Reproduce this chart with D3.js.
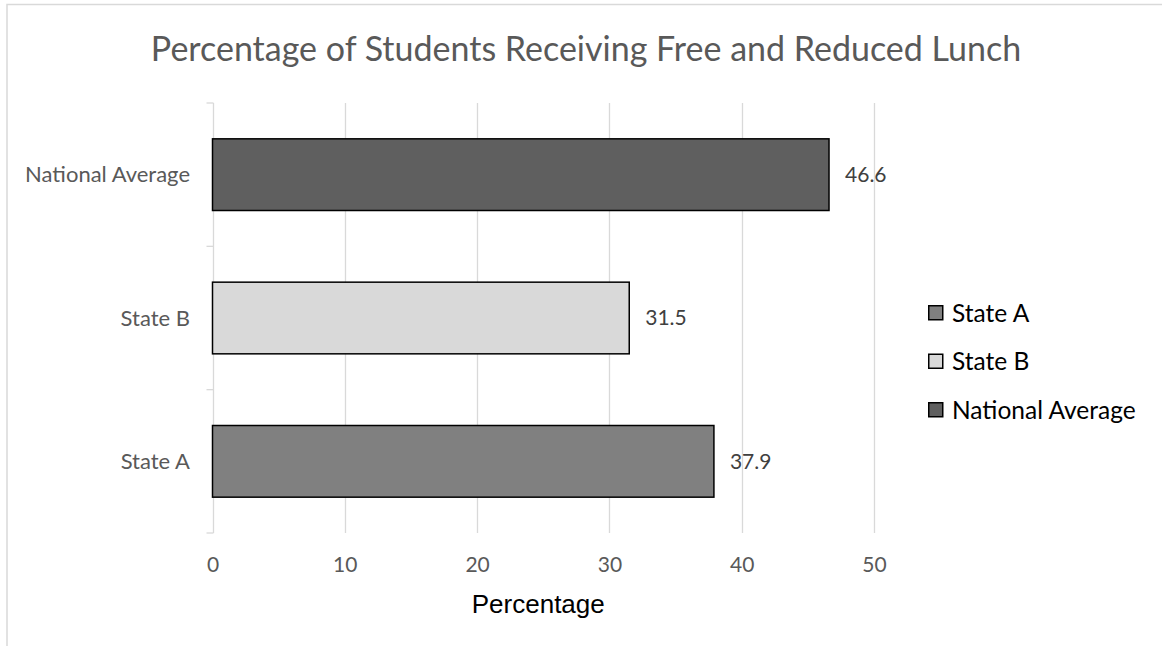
<!DOCTYPE html>
<html>
<head>
<meta charset="utf-8">
<script src="https://cdn.jsdelivr.net/npm/d3@7/dist/d3.min.js"></script>
<style>
  html, body { margin: 0; padding: 0; background: #fff; }
  svg { display: block; }
</style>
</head>
<body>
<svg id="chart" width="1162" height="646"></svg>
<script>
// Free and reduced lunch shares, bottom-to-top order as plotted
const categories = ["State A", "State B", "National Average"];
const values = [37.9, 31.5, 46.6];
const fills = ["#808080", "#d9d9d9", "#5f5f5f"];
const xTicks = [0, 10, 20, 30, 40, 50];

const W = 1162, H = 646;
const margin = { left: 212.5, right: 288, top: 103, bottom: 113 };
const baseFont = "Lato, 'Open Sans', sans-serif";

const svg = d3.select("#chart");

// outer chart frame
svg.append("rect")
  .attr("x", 7).attr("y", 4.5)
  .attr("width", W + 20).attr("height", H + 40)
  .attr("fill", "#fff")
  .attr("stroke", "#d9d9d9").attr("stroke-width", 1.5);

const x = d3.scaleLinear().domain([0, 50]).range([margin.left, W - margin.right]);
// categories listed bottom-to-top, so reverse for top-down band layout
const y = d3.scaleBand()
  .domain(categories.slice().reverse())
  .range([margin.top, H - margin.bottom])
  .paddingInner(0.5).paddingOuter(0.25);

const plotTop = margin.top, plotBottom = H - margin.bottom;

// vertical gridlines
svg.append("g").selectAll("line")
  .data(xTicks.filter(t => t > 0))
  .join("line")
  .attr("x1", d => Math.round(x(d)) + 0.5).attr("x2", d => Math.round(x(d)) + 0.5)
  .attr("y1", plotTop).attr("y2", plotBottom)
  .attr("stroke", "#d9d9d9").attr("stroke-width", 1.3);

// category axis line with tick marks at band edges
const yAxisX = Math.round(x(0)) + 0.5;
svg.append("line")
  .attr("x1", yAxisX).attr("x2", yAxisX)
  .attr("y1", plotTop).attr("y2", plotBottom)
  .attr("stroke", "#d9d9d9").attr("stroke-width", 1.3);
const step = (plotBottom - plotTop) / categories.length;
svg.append("g").selectAll("line")
  .data(d3.range(categories.length + 1))
  .join("line")
  .attr("x1", yAxisX - 7).attr("x2", yAxisX)
  .attr("y1", i => plotTop + i * step).attr("y2", i => plotTop + i * step)
  .attr("stroke", "#d9d9d9").attr("stroke-width", 1.3);

// bars
const data = categories.map((c, i) => ({ c, v: values[i], fill: fills[i] }));
svg.append("g").selectAll("rect")
  .data(data)
  .join("rect")
  .attr("x", x(0))
  .attr("y", d => y(d.c))
  .attr("width", d => x(d.v) - x(0))
  .attr("height", y.bandwidth())
  .attr("fill", d => d.fill)
  .attr("stroke", "#000").attr("stroke-width", 1.5);

// value labels
svg.append("g").selectAll("text")
  .data(data)
  .join("text")
  .attr("x", d => x(d.v) + 16)
  .attr("y", d => y(d.c) + y.bandwidth() / 2)
  .attr("dy", "0.35em")
  .attr("font-family", baseFont).attr("font-size", 21)
  .attr("fill", "#404040")
  .text(d => d.v.toFixed(1));

// category labels
svg.append("g").selectAll("text")
  .data(categories)
  .join("text")
  .attr("x", 190)
  .attr("y", d => y(d) + y.bandwidth() / 2)
  .attr("dy", "0.35em")
  .attr("text-anchor", "end")
  .attr("font-family", baseFont).attr("font-size", 22)
  .attr("fill", "#595959")
  .text(d => d);

// x tick labels
const xAxis = d3.axisBottom(x).tickValues(xTicks).tickSize(0).tickPadding(0);
const gx = svg.append("g").attr("transform", `translate(0, ${plotBottom})`).call(xAxis);
gx.select(".domain").remove();
gx.selectAll("text")
  .attr("y", 32).attr("dy", "0.35em")
  .attr("font-family", baseFont).attr("font-size", 21)
  .attr("fill", "#595959");

// axis title
svg.append("text")
  .attr("x", x(25) - 5).attr("y", 613)
  .attr("text-anchor", "middle")
  .attr("font-family", "'Liberation Sans', Arial, sans-serif").attr("font-size", 26)
  .attr("fill", "#000")
  .text("Percentage");

// chart title
svg.append("text")
  .attr("x", 586).attr("y", 61)
  .attr("text-anchor", "middle")
  .attr("font-family", baseFont).attr("font-size", 34)
  .attr("fill", "#595959")
  .text("Percentage of Students Receiving Free and Reduced Lunch");

// legend, listed top-down in series order
const legend = svg.append("g").attr("transform", "translate(928, 313)");
const items = legend.selectAll("g")
  .data(data)
  .join("g")
  .attr("transform", (d, i) => `translate(0, ${i * 48.5})`);
items.append("rect")
  .attr("x", 0.75).attr("y", -7.25)
  .attr("width", 14).attr("height", 14)
  .attr("fill", d => d.fill)
  .attr("stroke", "#000").attr("stroke-width", 1.5);
items.append("text")
  .attr("x", 24).attr("y", 0).attr("dy", "0.35em")
  .attr("font-family", baseFont).attr("font-size", 24.5)
  .attr("fill", "#000")
  .text(d => d.c);
</script>
</body>
</html>
